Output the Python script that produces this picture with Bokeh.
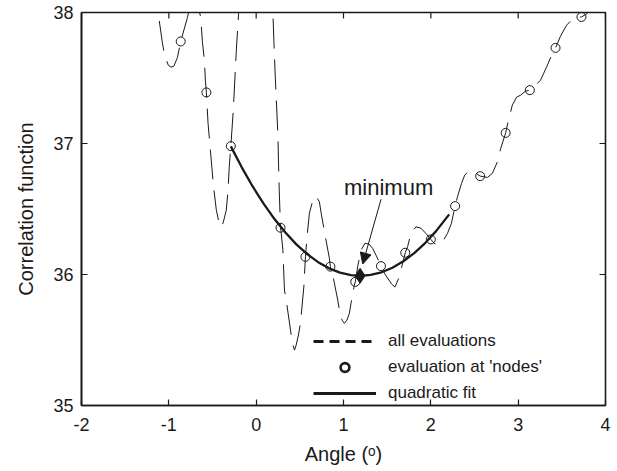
from bokeh.plotting import figure
from bokeh.models import (Range1d, FixedTicker, Arrow, NormalHead, Label,
                          Legend, LegendItem, ColumnDataSource)
from bokeh.embed import file_html
from bokeh.resources import INLINE

# ---- data ----
# all evaluations (dashed curve)
eval_x = [-1.164, -1.122, -1.076, -1.053, -1.007, -0.975, -0.943, -0.901, -0.864, -0.787,
          -0.741, -0.707, -0.667, -0.635, -0.616, -0.593, -0.581, -0.570, -0.551, -0.524,
          -0.490, -0.456, -0.422, -0.399, -0.376, -0.342, -0.322, -0.307, -0.290, -0.262,
          -0.227, -0.201, -0.170, -0.079, 0.001, 0.081, 0.161, 0.192, 0.203, 0.218,
          0.249, 0.256, 0.264, 0.279, 0.287, 0.306, 0.324, 0.344, 0.393, 0.412,
          0.439, 0.458, 0.484, 0.507, 0.546, 0.564, 0.584, 0.610, 0.649, 0.686,
          0.724, 0.744, 0.789, 0.838, 0.850, 0.877, 0.934, 0.953, 0.983, 1.010,
          1.040, 1.067, 1.086, 1.124, 1.135, 1.166, 1.200, 1.246, 1.292, 1.334,
          1.383, 1.429, 1.475, 1.551, 1.589, 1.638, 1.707, 1.734, 1.772, 1.829,
          1.886, 1.943, 2.000, 2.038, 2.077, 2.134, 2.191, 2.236, 2.278, 2.305,
          2.351, 2.388, 2.423, 2.491, 2.565, 2.648, 2.705, 2.762, 2.800, 2.857,
          2.876, 2.933, 2.982, 3.028, 3.085, 3.134, 3.199, 3.256, 3.325, 3.393,
          3.428, 3.485, 3.554, 3.622, 3.679, 3.725, 3.790, 3.828]
eval_y = [38.246, 37.995, 37.779, 37.689, 37.598, 37.583, 37.590, 37.657, 37.779, 37.962,
          38.094, 38.155, 38.056, 37.964, 37.781, 37.636, 37.476, 37.390, 37.155, 36.949,
          36.682, 36.492, 36.385, 36.362, 36.400, 36.492, 36.644, 36.835, 36.980, 37.255,
          37.712, 37.995, 38.208, 38.475, 38.550, 38.475, 38.208, 37.995, 37.779, 37.522,
          37.064, 36.850, 36.644, 36.357, 36.316, 36.186, 35.881, 35.805, 35.576, 35.484,
          35.423, 35.461, 35.538, 35.627, 35.906, 36.135, 36.301, 36.469, 36.568, 36.598,
          36.555, 36.469, 36.301, 36.125, 36.060, 35.996, 35.805, 35.729, 35.652, 35.627,
          35.652, 35.703, 35.780, 35.919, 35.944, 36.072, 36.186, 36.238, 36.232, 36.199,
          36.133, 36.064, 36.003, 35.927, 35.904, 35.980, 36.166, 36.212, 36.314, 36.364,
          36.354, 36.314, 36.268, 36.238, 36.225, 36.250, 36.314, 36.392, 36.522, 36.593,
          36.695, 36.759, 36.781, 36.784, 36.751, 36.741, 36.772, 36.860, 36.962, 37.081,
          37.140, 37.293, 37.354, 37.369, 37.400, 37.407, 37.445, 37.483, 37.583, 37.689,
          37.730, 37.819, 37.903, 37.949, 37.964, 37.966, 37.992, 38.033]

# evaluation at 'nodes'
node_x = [-0.864, -0.570, -0.290, 0.279, 0.564, 0.850, 1.135, 1.429, 1.707, 2.000,
          2.278, 2.565, 2.857, 3.134, 3.428, 3.725]
node_y = [37.779, 37.390, 36.980, 36.357, 36.135, 36.060, 35.944, 36.064, 36.166, 36.268,
          36.522, 36.751, 37.081, 37.407, 37.730, 37.966]

# quadratic fit
fit_x = [-0.290, -0.165, -0.040, 0.085, 0.210, 0.335, 0.460, 0.585, 0.710, 0.835,
         0.960, 1.085, 1.190, 1.310, 1.435, 1.560, 1.685, 1.810, 1.935, 2.060, 2.210]
fit_y = [36.978, 36.818, 36.672, 36.541, 36.423, 36.320, 36.230, 36.155, 36.094, 36.047,
         36.014, 35.995, 35.990, 35.997, 36.017, 36.052, 36.101, 36.163, 36.240, 36.331, 36.459]

# minimum of the fit
min_x = [1.19]
min_y = [35.99]

x_ticks = [-2, -1, 0, 1, 2, 3, 4]
y_ticks = [35, 36, 37, 38]
x_tick_labels = ["-2", "-1", "0", "1", "2", "3", "4"]
y_tick_labels = ["35", "36", "37", "38"]

# ---- styling ----
INK = "#1a1a1a"
FONT = "Liberation Sans"
X0, X1, Y0, Y1 = -2, 4, 35, 38
FRAME_W, FRAME_H = 524, 393          # pixels of the plot frame
TICK_PX = 6

p = figure(width=617, height=471, output_backend="svg", toolbar_location=None,
           x_range=Range1d(X0, X1), y_range=Range1d(Y0, Y1),
           min_border_left=81, min_border_right=12, min_border_top=12, min_border_bottom=66)
p.outline_line_color = INK
p.outline_line_width = 1.6
p.grid.visible = False
p.background_fill_color = "white"
p.border_fill_color = "white"

xa = p.xaxis[0]
ya = p.yaxis[0]
for ax, ticks, labels in ((xa, x_ticks, x_tick_labels), (ya, y_ticks, y_tick_labels)):
    ax.ticker = FixedTicker(ticks=ticks)
    ax.major_label_overrides = {t: s for t, s in zip(ticks, labels)}
    ax.major_tick_in = TICK_PX
    ax.major_tick_out = 0
    ax.minor_tick_line_color = None
    ax.axis_line_width = 1.6
    ax.axis_line_color = INK
    ax.major_tick_line_color = INK
    ax.major_tick_line_width = 1.2
    ax.major_label_text_font = FONT
    ax.major_label_text_color = INK
    ax.major_label_text_font_size = "18px"
    ax.axis_label_text_font = FONT
    ax.axis_label_text_font_size = "20px"
    ax.axis_label_text_font_style = "normal"
    ax.axis_label_text_color = INK
xa.major_label_standoff = 12
ya.major_label_standoff = 8
xa.axis_label = "Angle (ᵒ)"
ya.axis_label = "Correlation function"
xa.axis_label_standoff = 9
ya.axis_label_standoff = 13

# inward ticks on the top and right edges of the box
tx = TICK_PX * (X1 - X0) / FRAME_W
ty = TICK_PX * (Y1 - Y0) / FRAME_H
p.segment(x0=x_ticks, y0=[Y1] * len(x_ticks), x1=x_ticks, y1=[Y1 - ty] * len(x_ticks),
          line_color=INK, line_width=1.2)
p.segment(x0=[X1] * len(y_ticks), y0=y_ticks, x1=[X1 - tx] * len(y_ticks), y1=y_ticks,
          line_color=INK, line_width=1.2)

src_eval = ColumnDataSource(dict(x=eval_x, y=eval_y))
src_node = ColumnDataSource(dict(x=node_x, y=node_y))
src_fit = ColumnDataSource(dict(x=fit_x, y=fit_y))
src_min = ColumnDataSource(dict(x=min_x, y=min_y))

p.line("x", "y", source=src_eval, line_color=INK, line_width=1.0, line_dash="30 11")
p.line("x", "y", source=src_fit, line_color=INK, line_width=2.3)
p.scatter("x", "y", source=src_node, marker="circle", size=9, fill_color=None,
          line_color=INK, line_width=1.0)
p.scatter("x", "y", source=src_min, marker="diamond", size=15, fill_color=INK,
          line_color=INK, line_width=1.0)

# annotation "minimum" with arrow towards the minimum
p.add_layout(Arrow(end=NormalHead(size=11, fill_color=INK, line_color=INK, line_width=1),
                   x_start=min_x[0] + 0.24, y_start=min_y[0] + 0.585,
                   x_end=min_x[0] + 0.03, y_end=min_y[0] + 0.09,
                   line_color=INK, line_width=1.0))
p.add_layout(Label(x=min_x[0] - 0.184, y=min_y[0] + 0.675, text="minimum",
                   text_font=FONT, text_font_size="22px", text_color=INK,
                   text_baseline="alphabetic", text_align="left"))

# legend with dedicated sample glyphs (sources hold no visible point)
nan = float("nan")
blank = lambda: ColumnDataSource(dict(x=[nan], y=[nan]))
lg_dash = p.line("x", "y", source=blank(), line_color=INK, line_width=3, line_dash="10 6")
lg_node = p.scatter("x", "y", source=blank(), marker="circle", size=9, fill_color=None,
                    line_color=INK, line_width=2.6)
lg_fit = p.line("x", "y", source=blank(), line_color=INK, line_width=3)

legend = Legend(items=[LegendItem(label="all evaluations", renderers=[lg_dash]),
                       LegendItem(label="evaluation at 'nodes'", renderers=[lg_node]),
                       LegendItem(label="quadratic fit", renderers=[lg_fit])],
                location=(232, 1), background_fill_alpha=0, border_line_color=None,
                padding=0, margin=0, spacing=4, glyph_width=63, glyph_height=22,
                label_height=22, label_standoff=12, label_text_font=FONT,
                label_text_font_size="17px", label_text_color=INK)
p.add_layout(legend, "center")

open("out.html", "w").write(file_html(p, INLINE))
